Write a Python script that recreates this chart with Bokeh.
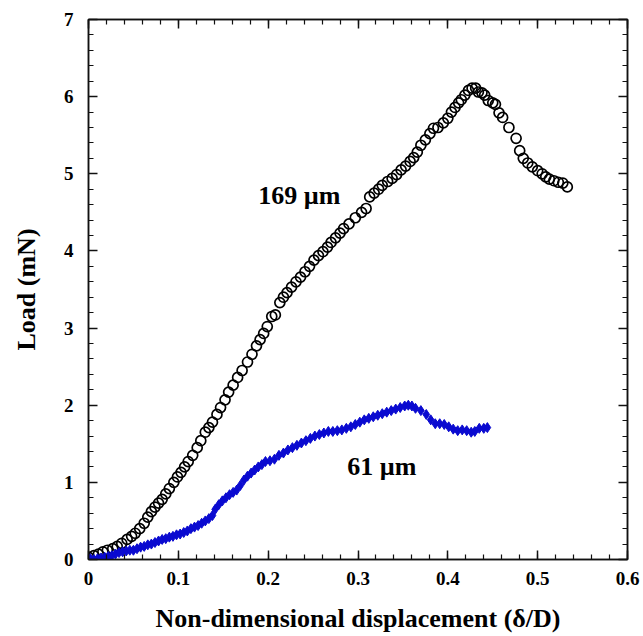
from bokeh.plotting import figure
from bokeh.models import LinearAxis, FixedTicker, ColumnDataSource
from bokeh.core.properties import value
from bokeh.embed import file_html
from bokeh.resources import INLINE

# ---- data ----
black_x = [0.000, 0.006, 0.011, 0.016, 0.021, 0.027, 0.032, 0.037, 0.043, 0.048,
           0.052, 0.057, 0.062, 0.066, 0.070, 0.074, 0.078, 0.082, 0.086, 0.090,
           0.095, 0.099, 0.103, 0.107, 0.111, 0.116, 0.121, 0.125, 0.130, 0.134,
           0.138, 0.143, 0.147, 0.152, 0.156, 0.161, 0.166, 0.171, 0.177, 0.182,
           0.187, 0.191, 0.195, 0.199, 0.204, 0.208, 0.213, 0.217, 0.221, 0.226,
           0.231, 0.236, 0.241, 0.246, 0.251, 0.256, 0.261, 0.266, 0.270, 0.275,
           0.280, 0.284, 0.290, 0.297, 0.304, 0.309, 0.313, 0.318, 0.323, 0.327,
           0.333, 0.338, 0.343, 0.348, 0.353, 0.358, 0.362, 0.366, 0.370, 0.375,
           0.380, 0.384, 0.389, 0.395, 0.400, 0.404, 0.408, 0.412, 0.415, 0.419,
           0.423, 0.427, 0.431, 0.434, 0.438, 0.441, 0.445, 0.450, 0.453, 0.457,
           0.461, 0.468, 0.476, 0.480, 0.484, 0.489, 0.494, 0.500, 0.505, 0.509,
           0.513, 0.518, 0.523, 0.528, 0.533]
black_y = [0.03, 0.05, 0.07, 0.10, 0.12, 0.14, 0.17, 0.21, 0.26, 0.30,
           0.34, 0.40, 0.47, 0.55, 0.62, 0.68, 0.73, 0.78, 0.85, 0.92,
           1.00, 1.07, 1.13, 1.20, 1.27, 1.35, 1.45, 1.54, 1.65, 1.71,
           1.78, 1.88, 1.97, 2.07, 2.17, 2.26, 2.36, 2.45, 2.56, 2.66,
           2.77, 2.85, 2.93, 3.02, 3.15, 3.17, 3.33, 3.40, 3.46, 3.53,
           3.60, 3.66, 3.73, 3.80, 3.88, 3.94, 3.99, 4.05, 4.11, 4.17,
           4.23, 4.29, 4.35, 4.43, 4.50, 4.55, 4.70, 4.75, 4.80, 4.85,
           4.90, 4.94, 4.99, 5.05, 5.10, 5.16, 5.21, 5.28, 5.37, 5.44,
           5.52, 5.59, 5.60, 5.66, 5.72, 5.80, 5.86, 5.92, 5.96, 6.02,
           6.08, 6.11, 6.11, 6.06, 6.05, 6.02, 5.95, 5.92, 5.90, 5.79,
           5.73, 5.60, 5.46, 5.30, 5.20, 5.14, 5.09, 5.04, 5.00, 4.96,
           4.93, 4.91, 4.89, 4.88, 4.83]

blue_x = [0.002, 0.006, 0.010, 0.014, 0.018, 0.022, 0.026, 0.030, 0.034, 0.038,
          0.042, 0.046, 0.050, 0.054, 0.058, 0.062, 0.066, 0.070, 0.074, 0.078,
          0.082, 0.086, 0.090, 0.094, 0.098, 0.102, 0.106, 0.110, 0.114, 0.118,
          0.122, 0.126, 0.130, 0.134, 0.138, 0.141, 0.145, 0.149, 0.153, 0.157,
          0.161, 0.165, 0.169, 0.173, 0.177, 0.181, 0.185, 0.189, 0.193, 0.197,
          0.202, 0.207, 0.212, 0.217, 0.222, 0.227, 0.232, 0.237, 0.242, 0.247,
          0.252, 0.257, 0.262, 0.267, 0.272, 0.277, 0.282, 0.287, 0.292, 0.297,
          0.302, 0.307, 0.312, 0.317, 0.322, 0.327, 0.332, 0.337, 0.342, 0.347,
          0.352, 0.356, 0.360, 0.364, 0.370, 0.376, 0.381, 0.386, 0.391, 0.396,
          0.401, 0.406, 0.411, 0.416, 0.421, 0.426, 0.430, 0.435, 0.440, 0.444]
blue_y = [0.01, 0.00, 0.01, 0.02, 0.03, 0.04, 0.05, 0.07, 0.09, 0.10,
          0.11, 0.12, 0.12, 0.14, 0.16, 0.17, 0.19, 0.20, 0.22, 0.24,
          0.26, 0.27, 0.29, 0.30, 0.32, 0.33, 0.35, 0.37, 0.40, 0.42,
          0.44, 0.47, 0.50, 0.53, 0.57, 0.65, 0.71, 0.76, 0.80, 0.84,
          0.87, 0.90, 0.96, 1.03, 1.08, 1.12, 1.16, 1.20, 1.23, 1.27,
          1.28, 1.30, 1.35, 1.38, 1.42, 1.45, 1.48, 1.51, 1.54, 1.57,
          1.60, 1.62, 1.64, 1.66, 1.66, 1.67, 1.68, 1.70, 1.72, 1.75,
          1.78, 1.81, 1.83, 1.85, 1.87, 1.89, 1.91, 1.93, 1.95, 1.97,
          1.99, 2.00, 1.99, 1.96, 1.93, 1.88, 1.81, 1.76, 1.76, 1.75,
          1.72, 1.69, 1.67, 1.68, 1.67, 1.65, 1.66, 1.70, 1.70, 1.71]

x_ticks = [0.0, 0.1, 0.2, 0.3, 0.4, 0.5, 0.6]
x_tick_labels = ["0", "0.1", "0.2", "0.3", "0.4", "0.5", "0.6"]
y_ticks = [0, 1, 2, 3, 4, 5, 6, 7]
y_tick_labels = ["0", "1", "2", "3", "4", "5", "6", "7"]

series_labels = ["169 \u00b5m", "61 \u00b5m"]
label_x = [0.189, 0.288]
label_y = [4.72, 1.21]

x_title = "Non-dimensional displacement (\u03b4/D)"
y_title = "Load (mN)"

# ---- figure ----
FONT = "Liberation Serif"

p = figure(width=640, height=636, x_range=(0, 0.6), y_range=(0, 7),
           output_backend="svg", toolbar_location=None,
           min_border_left=88, min_border_right=13, min_border_top=19,
           min_border_bottom=77)
p.grid.visible = False
p.outline_line_color = "#111111"
p.outline_line_width = 1.5
p.background_fill_color = "white"
p.border_fill_color = "white"

x_minor = [round(i * 0.02, 4) for i in range(31)]
y_minor = [round(i * 0.2, 4) for i in range(36)]
xt = FixedTicker(ticks=x_ticks, minor_ticks=x_minor)
yt = FixedTicker(ticks=y_ticks, minor_ticks=y_minor)


def style_axis(ax, ticker, labels, show):
    ax.ticker = ticker
    ax.axis_line_color = "#111111"
    ax.axis_line_width = 1.5
    ax.major_tick_line_color = "#111111"
    ax.minor_tick_line_color = "#111111"
    ax.major_tick_line_width = 1.5
    ax.minor_tick_line_width = 1.2
    ax.major_tick_in = 9
    ax.major_tick_out = 0
    ax.minor_tick_in = 5
    ax.minor_tick_out = 0
    if show:
        ax.major_label_overrides = {t: l for t, l in zip(ticker.ticks, labels)}
        ax.major_label_text_font = FONT
        ax.major_label_text_font_style = "bold"
        ax.major_label_text_font_size = "19px"
        ax.major_label_text_color = "black"
        ax.axis_label_text_font = FONT
        ax.axis_label_text_font_style = "bold"
        ax.axis_label_text_font_size = "26px"
        ax.axis_label_text_color = "black"
    else:
        ax.major_label_overrides = {t: "" for t in ticker.ticks}
        ax.major_label_standoff = 0


xa = p.xaxis[0]
ya = p.yaxis[0]
style_axis(xa, xt, x_tick_labels, True)
style_axis(ya, yt, y_tick_labels, True)
xa.axis_label = x_title
ya.axis_label = y_title
xa.major_label_standoff = 12
xa.axis_label_standoff = 16
ya.major_label_standoff = 15
ya.axis_label_standoff = 20

top = LinearAxis()
right = LinearAxis()
style_axis(top, xt, x_tick_labels, False)
style_axis(right, yt, y_tick_labels, False)
p.add_layout(top, "above")
p.add_layout(right, "right")

src_black = ColumnDataSource(data=dict(x=black_x, y=black_y))
src_blue = ColumnDataSource(data=dict(x=blue_x, y=blue_y))

p.scatter("x", "y", source=src_black, marker="circle", size=10,
          fill_color=None, line_color="black", line_width=1.7)
p.scatter("x", "y", source=src_blue, marker="diamond", size=10,
          fill_color="#0a0ad0", line_color="#0a0ad0", line_width=1)

src_lab = ColumnDataSource(data=dict(x=label_x, y=label_y, t=series_labels))
p.text("x", "y", text="t", source=src_lab, text_font=value(FONT),
       text_font_style="bold", text_font_size="26px", text_color="black",
       text_align="left", text_baseline="middle")

open("out.html", "w").write(file_html(p, INLINE))
